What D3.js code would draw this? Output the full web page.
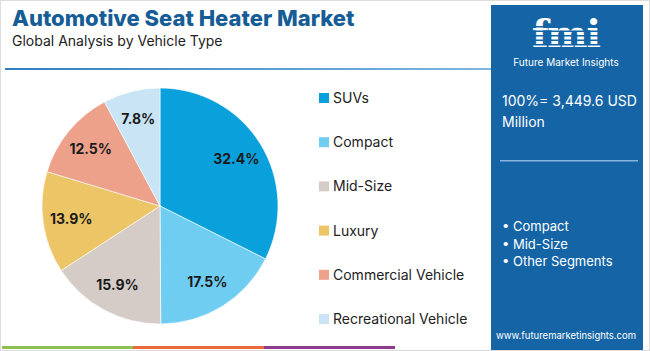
<!DOCTYPE html>
<html>
<head>
<meta charset="utf-8">
<script src="https://cdn.jsdelivr.net/npm/d3@7"></script>
<style>
  body { margin: 0; background: #fff; }
  svg { display: block; font-family: Inter, "Open Sans", sans-serif; }
</style>
</head>
<body>
<svg width="650" height="351"></svg>
<script>
// data
const categories = ["SUVs", "Compact", "Mid-Size", "Luxury", "Commercial Vehicle", "Recreational Vehicle"];
const shares = [32.4, 17.5, 15.9, 13.9, 12.5, 7.8];
const colors = ["#0aa0dc", "#6fcdf2", "#d5ccc8", "#ecc567", "#eda18b", "#c8e4f5"];
const keySegments = ["Compact", "Mid-Size", "Other Segments"];
const totalLabel = ["100%= 3,449.6 USD", "Million"];
const stripColors = ["#8cc152", "#ea6a3a", "#8e3b8f"];

const svg = d3.select("svg");

// frame
svg.append("rect").attr("x", 0.5).attr("y", 0.5).attr("width", 649).attr("height", 350)
  .attr("fill", "#fff").attr("stroke", "#dcdcdc");

// title
svg.append("text").attr("x", 12).attr("y", 26)
  .attr("font-size", 22).attr("font-weight", 800).attr("fill", "#165d96")
  .text("Automotive Seat Heater Market");
svg.append("text").attr("x", 12).attr("y", 46)
  .attr("font-size", 14).attr("fill", "#222")
  .text("Global Analysis by Vehicle Type");

const grad = svg.append("defs").append("linearGradient").attr("id", "lineGrad");
grad.append("stop").attr("offset", "0%").attr("stop-color", "#2f7fc0");
grad.append("stop").attr("offset", "100%").attr("stop-color", "#7fb6e0");
svg.append("rect").attr("x", 5).attr("y", 68).attr("width", 486).attr("height", 2)
  .attr("fill", "url(#lineGrad)");

// pie
const cx = 160, cy = 206, r = 118;
const pie = d3.pie().sort(null).value(d => d);
const arcs = pie(shares);
const arc = d3.arc().innerRadius(0).outerRadius(r);
const labelArc = d3.arc().innerRadius(r * 0.76).outerRadius(r * 0.76);

const g = svg.append("g").attr("transform", `translate(${cx},${cy})`);
g.selectAll("path").data(arcs).join("path")
  .attr("d", arc)
  .attr("fill", (d, i) => colors[i])
  .attr("stroke", "#fff").attr("stroke-width", 0.6);

g.selectAll("text").data(arcs).join("text")
  .attr("transform", d => `translate(${labelArc.centroid(d)})`)
  .attr("text-anchor", "middle").attr("dy", "0.36em")
  .attr("font-size", 14).attr("font-weight", 700).attr("fill", "#1a1a1a")
  .text(d => d.data.toFixed(1) + "%");

// legend
const ly = d3.scalePoint().domain(categories).range([98, 319]);
const legend = svg.append("g");
const item = legend.selectAll("g").data(categories).join("g")
  .attr("transform", d => `translate(319,${ly(d)})`);
item.append("rect").attr("x", 0).attr("y", -5).attr("width", 10).attr("height", 10)
  .attr("fill", (d, i) => colors[i]);
item.append("text").attr("x", 14).attr("dy", "0.36em")
  .attr("font-size", 14).attr("fill", "#222").text(d => d);

// right panel
svg.append("rect").attr("x", 491).attr("y", 5).attr("width", 152).attr("height", 345)
  .attr("fill", "#1565a6");

// logo (approximation)
const logo = svg.append("g");
logo.append("text").attr("x", 566).attr("y", 47).attr("text-anchor", "middle")
  .attr("font-size", 38).attr("font-weight", 800).attr("fill", "#fff")
  .attr("font-family", "DejaVu Serif, serif").attr("letter-spacing", -1)
  .text("fmi");
for (let k = 0; k < 5; k++) {
  logo.append("rect").attr("x", 518).attr("y", 26 + k * 4.5).attr("width", 96).attr("height", 1.5)
    .attr("fill", "#1565a6");
}
logo.append("text").attr("x", 566).attr("y", 66).attr("text-anchor", "middle")
  .attr("font-size", 10).attr("fill", "#fff").text("Future Market Insights");

svg.append("g").selectAll("text").data(totalLabel).join("text")
  .attr("x", 502).attr("y", (d, i) => 106 + i * 21)
  .attr("font-size", 14).attr("fill", "#fff").text(d => d);

svg.append("rect").attr("x", 500).attr("y", 160).attr("width", 138).attr("height", 1.5)
  .attr("fill", "#8ab4dc");

svg.append("g").selectAll("text").data(keySegments).join("text")
  .attr("x", 502).attr("y", (d, i) => 231 + i * 17.5)
  .attr("font-size", 13).attr("fill", "#fff").text(d => "\u2022 " + d);

svg.append("text").attr("x", 566).attr("y", 339).attr("text-anchor", "middle")
  .attr("font-size", 9.5).attr("fill", "#fff").text("www.futuremarketinsights.com");

// bottom strip
const sx = d3.scaleBand().domain(d3.range(stripColors.length)).range([2, 395]);
svg.append("g").selectAll("rect").data(stripColors).join("rect")
  .attr("x", (d, i) => sx(i)).attr("y", 346).attr("width", sx.bandwidth()).attr("height", 3)
  .attr("fill", d => d);
</script>
</body>
</html>
